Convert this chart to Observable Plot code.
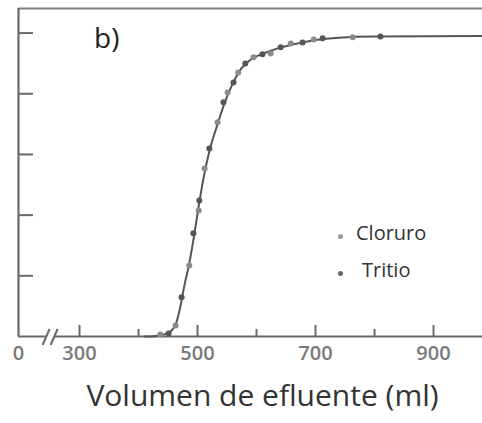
<!DOCTYPE html>
<html><head><meta charset="utf-8">
<script src="https://cdn.jsdelivr.net/npm/d3@7"></script>
<script src="https://cdn.jsdelivr.net/npm/@observablehq/plot@0.6"></script>
<style>
html,body{margin:0;padding:0;background:#fff;}
#wrap{position:relative;width:482px;height:423px;overflow:hidden;font-family:"Open Sans",sans-serif;}
#wrap svg{position:absolute;left:0;top:0;}
.ov{position:absolute;white-space:nowrap;color:#333;line-height:28px;}
.dot{position:absolute;width:5px;height:5px;border-radius:50%;}
</style></head><body><div id="wrap"></div>
<script>
// ---- data ----
const seriesNames = ["Cloruro", "Tritio"];
const volumeCloruro   = [437, 463, 486, 502, 512, 534, 551, 569, 595, 624, 658, 697, 763];
const fractionCloruro = [0.007, 0.036, 0.234, 0.415, 0.554, 0.706, 0.804, 0.870, 0.920, 0.933, 0.966, 0.979, 0.986];
const volumeTritio    = [451, 473, 493, 503, 520, 544, 561, 581, 610, 641, 678, 712, 810];
const fractionTritio  = [0.010, 0.129, 0.340, 0.448, 0.620, 0.772, 0.837, 0.900, 0.930, 0.953, 0.969, 0.983, 0.989];
const curveVolume   = [410, 430, 445, 455, 463, 470, 478, 486, 494, 502, 511, 520, 534, 546, 560, 575, 592, 615, 640, 670, 700, 740, 800, 983];
const curveFraction = [0, 0.002, 0.008, 0.018, 0.04, 0.09, 0.17, 0.24, 0.33, 0.43, 0.53, 0.61, 0.70, 0.77, 0.835, 0.885, 0.915, 0.935, 0.952, 0.966, 0.977, 0.985, 0.989, 0.99];
const majorTicks = [300, 500, 700, 900];
const minorTicks = [400, 600, 800];
const yTicks = [0.2, 0.4, 0.6, 0.8, 1.0];
const originLabel = "0";
const xDomain = [196.6, 983];
const yDomain = [0, 1.081];
const axisBreak = 251;
const panelLabel = "b)";
const xLabel = "Volumen de efluente (ml)";

// ---- build ----
const W = 482, H = 423, mL = 18, mR = 0, mT = 8, mB = 87;
const pxPerX = (W - mL - mR) / (xDomain[1] - xDomain[0]);
const pxPerY = (H - mT - mB) / (yDomain[1] - yDomain[0]);
const seriesColor = {Cloruro: "#8c8c8c", Tritio: "#555"};
const legendColor = {Cloruro: "#9a9a9a", Tritio: "#666"};
const points = [
  ...volumeCloruro.map((v, i) => ({v, f: fractionCloruro[i], s: seriesNames[0]})),
  ...volumeTritio.map((v, i) => ({v, f: fractionTritio[i], s: seriesNames[1]}))
];
const curve = curveVolume.map((v, i) => ({v, f: curveFraction[i]}));
const axisColor = "#6a6a6a";
const tickStyle = {stroke: axisColor, strokeWidth: 2};

const plot = Plot.plot({
  width: W, height: H,
  marginLeft: mL, marginRight: mR, marginTop: mT, marginBottom: mB,
  x: {domain: xDomain},
  y: {domain: yDomain, axis: null},
  style: {fontFamily: "Open Sans, sans-serif", background: "transparent"},
  marks: [
    Plot.ruleY([yDomain[1]], {stroke: "#808080", strokeWidth: 2}),
    Plot.ruleX([xDomain[0]], {stroke: axisColor, strokeWidth: 2.2}),
    Plot.ruleY([0], {stroke: axisColor, strokeWidth: 2}),
    Plot.ruleY(yTicks, {x1: xDomain[0], x2: xDomain[0] + 15 / pxPerX, ...tickStyle}),
    Plot.ruleX(majorTicks, {y1: 0, y2: 11 / pxPerY, ...tickStyle}),
    Plot.ruleX(minorTicks, {y1: 0, y2: 7 / pxPerY, ...tickStyle}),
    Plot.axisX({ticks: [xDomain[0], ...majorTicks], tickSize: 0, tickPadding: 9,
      tickFormat: d => d === xDomain[0] ? originLabel : String(d),
      fontSize: 20, fontWeight: 600, fill: "#7a7a7a", label: null}),
    Plot.line(curve, {x: "v", y: "f", curve: "monotone-x", stroke: "#555", strokeWidth: 2}),
    Plot.dot(points, {x: "v", y: "f", r: 3, fill: d => seriesColor[d.s], stroke: "none"}),
    Plot.text([xLabel], {frameAnchor: "bottom", dx: 12, dy: 69, fontSize: 30, fill: "#333", text: d => d})
  ]
});
const wrap = document.getElementById("wrap");
wrap.appendChild(plot);

// axis break "//"
const xs = plot.scale("x"), ys = plot.scale("y");
const bx = xs.apply(axisBreak), by = ys.apply(0);
const svg = d3.select(plot);
svg.append("line").attr("x1", bx - 4).attr("x2", bx + 4).attr("y1", by).attr("y2", by)
  .attr("stroke", "#fff").attr("stroke-width", 4);
[-4, 4].forEach(o => {
  svg.append("line").attr("x1", bx + o - 3.5).attr("y1", by + 9).attr("x2", bx + o + 3.5).attr("y2", by - 7)
    .attr("stroke", axisColor).attr("stroke-width", 2);
});

// panel label & legend
function ov(text, left, top, size, color) {
  const d = document.createElement("div");
  d.className = "ov"; d.textContent = text;
  d.style.left = left + "px"; d.style.top = top + "px"; d.style.fontSize = size + "px";
  if (color) d.style.color = color;
  wrap.appendChild(d); return d;
}
ov(panelLabel, 94, 23, 28, "#222");
const legendTextCenter = [233, 270];
seriesNames.forEach((s, i) => {
  const dt = document.createElement("div");
  dt.className = "dot"; dt.style.background = legendColor[s];
  dt.style.left = "338px"; dt.style.top = (legendTextCenter[i] + 1) + "px";
  wrap.appendChild(dt);
  ov(s, i === 0 ? 356 : 362, legendTextCenter[i] - 14, 20, "#333");
});
</script>
</body></html>
